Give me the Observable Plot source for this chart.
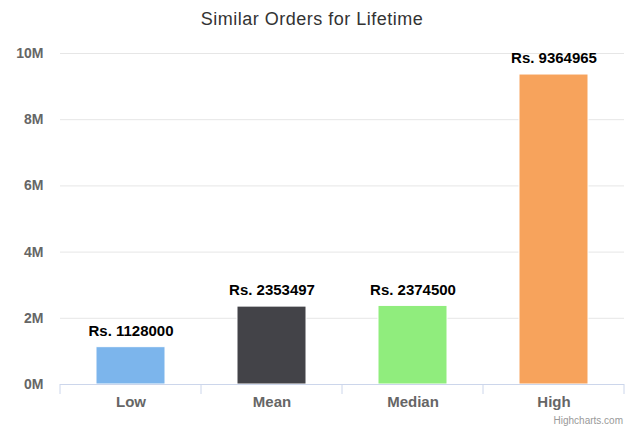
<!DOCTYPE html>
<html>
<head>
<meta charset="utf-8">
<script src="https://cdn.jsdelivr.net/npm/d3@7"></script>
<script src="https://cdn.jsdelivr.net/npm/@observablehq/plot@0.6"></script>
<style>
  html, body { margin: 0; padding: 0; background: #fff; }
  body { width: 631px; height: 428px; overflow: hidden; font-family: "Liberation Sans", Arial, Helvetica, sans-serif; }
  #title { height: 36px; box-sizing: border-box; padding-top: 9px; padding-right: 7px; text-align: center; font-size: 18px; letter-spacing: 0.5px; color: #333; line-height: 20px; }
  #credits { height: 12px; text-align: right; padding-right: 8px; font-size: 10px; color: #999; line-height: 10px; }
  svg { display: block; }
</style>
</head>
<body>
<div id="title">Similar Orders for Lifetime</div>
<div id="chart"></div>
<div id="credits">Highcharts.com</div>
<script>
const categories = ["Low", "Mean", "Median", "High"];
const values = [1128000, 2353497, 2374500, 9364965];
const colors = ["#7cb5ec", "#434348", "#90ed7d", "#f7a35c"];
const yTicks = [0, 2e6, 4e6, 6e6, 8e6, 10e6];

const data = categories.map((c, i) => ({category: c, value: values[i], color: colors[i]}));

const plot = Plot.plot({
  width: 631,
  height: 380,
  marginTop: 17,
  marginBottom: 32,
  marginLeft: 60,
  marginRight: 7,
  style: {fontFamily: '"Liberation Sans", Arial, Helvetica, sans-serif', background: "#fff"},
  x: {domain: categories, paddingInner: 0.51, paddingOuter: 0.255, label: null},
  y: {domain: [0, 1e7], label: null},
  marks: [
    Plot.gridY(yTicks, {stroke: "#e6e6e6", strokeOpacity: 1}),
    Plot.axisY(yTicks, {
      tickSize: 0, tickPadding: 17, tickFormat: d => (d / 1e6) + "M",
      fill: "#666", fontSize: 14, fontWeight: "bold", label: null
    }),
    Plot.axisX({
      tickSize: 0, tickPadding: 12, fill: "#666", fontSize: 15, fontWeight: "bold", label: null
    }),
    Plot.barY(data, {x: "category", y: "value", fill: "color", stroke: "#fff", strokeWidth: 1}),
    Plot.ruleY([0], {stroke: "#ccd6eb"}),
    Plot.text(data, {
      x: "category", y: "value", text: d => "Rs. " + d.value,
      dy: -16, fill: "#000", fontSize: 15, fontWeight: "bold"
    })
  ]
});

document.getElementById("chart").appendChild(plot);

// category boundary ticks from the band scale
const xs = plot.scale("x");
const ys = plot.scale("y");
const step = xs.step, bw = xs.bandwidth;
const half = (step - bw) / 2;
const bounds = categories.map(c => xs.apply(c) - half);
bounds.push(xs.apply(categories[categories.length - 1]) + bw + half);
const y0 = ys.apply(0);
d3.select(plot).append("g")
  .selectAll("line").data(bounds).join("line")
  .attr("x1", d => d).attr("x2", d => d)
  .attr("y1", y0).attr("y2", y0 + 10)
  .attr("stroke", "#ccd6eb");
</script>
</body>
</html>
